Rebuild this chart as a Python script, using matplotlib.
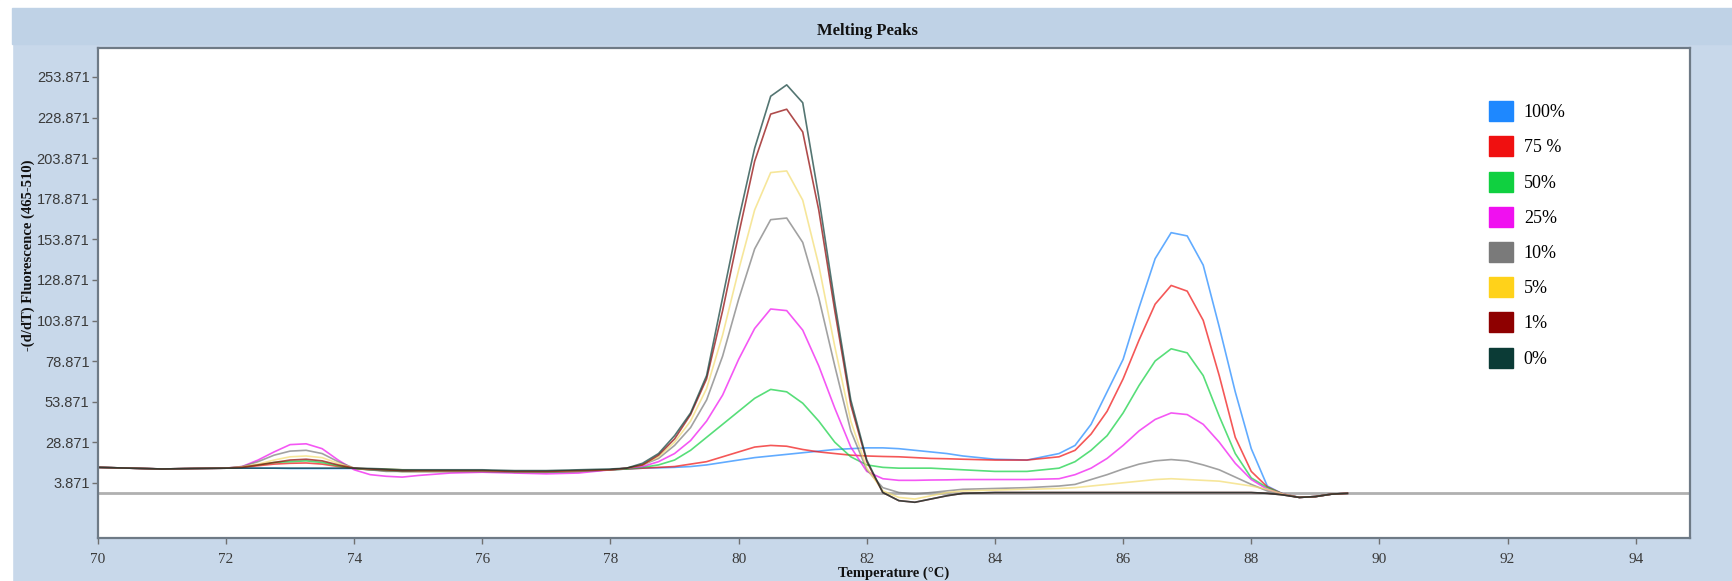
import matplotlib
matplotlib.use("Agg")
import matplotlib.pyplot as plt
from matplotlib.patches import Patch, Rectangle

# temperature grid (deg C)
temps = [70, 70.5, 71, 71.5, 72, 72.25, 72.5, 72.75, 73, 73.25, 73.5, 73.75,
         74, 74.25, 74.5, 74.75, 75, 75.5, 76, 76.5, 77, 77.5, 78, 78.25,
         78.5, 78.75, 79, 79.25, 79.5, 79.75, 80, 80.25, 80.5, 80.75, 81, 81.25,
         81.5, 81.75, 82, 82.25, 82.5, 82.75, 83, 83.25, 83.5, 84, 84.5, 85,
         85.25, 85.5, 85.75, 86, 86.25, 86.5, 86.75, 87, 87.25, 87.5, 87.75, 88,
         88.25, 88.5, 88.75, 89, 89.25, 89.5]

s100 = [13.5, 13, 12.5, 12.8, 13, 13, 13, 13, 12.8, 12.8, 12.8, 12.8,
        12.8, 12.5, 12, 11.5, 11.5, 11.5, 11.5, 11, 11, 11.5, 12, 12.5,
        13, 13.2, 13.5, 14, 15, 16.5, 18, 19.5, 20.5, 21.5, 22.5, 23.5,
        24.5, 25, 25.5, 25.5, 25, 24, 23, 22, 20.5, 18.5, 18, 22,
        27, 40, 60, 80, 112, 142, 158, 156, 138, 100, 60, 25,
        2, -3, -5, -4.5, -3, -2.5]
s75 = [13.5, 13, 12.5, 12.8, 13, 13.5, 14.5, 15.5, 16, 16.2, 15.5, 14,
       12.8, 12, 11.5, 11, 11, 11, 11, 10.5, 10.5, 11, 12, 12.5,
       13, 13.5, 14, 15.5, 17, 20, 23, 26, 27, 26.5, 24.5, 23,
       22, 21, 20.5, 20.2, 20, 19.5, 19, 18.8, 18.5, 18, 18, 20,
       24, 34, 48, 68, 92, 114, 125.5, 122, 104, 70, 32, 11,
       1.5, -3, -5, -4.5, -3, -2.5]
s50 = [13.5, 13, 12.5, 12.8, 13, 13.8, 15, 16.5, 17, 17.5, 16.5, 14.5,
       12.8, 12, 11.5, 11, 11, 11, 11, 10.5, 10.5, 11, 12, 12.5,
       13.5, 15, 18, 24, 32, 40, 48, 56, 61.5, 60, 53, 42,
       29, 20, 15, 13.5, 13, 13, 13, 12.5, 12, 11, 11, 13,
       17, 24, 33, 47, 64, 79, 86.5, 84, 70, 45, 22, 7,
       1, -3, -5, -4.5, -3, -2.5]
s25 = [13.5, 13, 12.5, 12.8, 13, 14, 18, 23, 27.5, 28, 25, 18,
       12, 9, 8, 7.5, 8.5, 10, 10.5, 10, 9.5, 10, 12, 13,
       14, 17, 22, 30, 42, 58, 80, 99, 111, 110, 98, 76,
       50, 26, 11, 6.5, 5.5, 5.5, 5.7, 5.8, 6, 6, 6, 6.5,
       9, 13, 19, 27, 36, 43, 47, 46, 40, 29, 16, 6,
       0, -3, -5, -4.5, -3, -2.5]
s10 = [13.5, 13, 12.5, 12.8, 13, 14, 17, 21, 23.5, 24, 22, 17,
       13, 12, 11, 11, 11, 11, 11, 10.5, 10.5, 11, 12, 13,
       15, 19, 27, 38, 55, 82, 117, 148, 166, 167, 152, 118,
       76, 36, 12, 1, -2, -3, -2, -1, 0, 0.5, 1, 2,
       3, 6, 9, 12.5, 15.5, 17.5, 18.3, 17.5, 15, 12, 7.5, 3,
       -1, -3.5, -5, -4.5, -3, -2.5]
s5 = [13.5, 13, 12.5, 12.8, 13, 13.8, 15.5, 18, 20, 20.5, 19.5, 16,
      13, 12.5, 12.5, 12, 11.5, 11.5, 11.5, 11, 11, 11.5, 12, 13,
      15, 20, 29, 42, 62, 95, 135, 172, 195, 196, 178, 138,
      88, 42, 13, -1, -5, -6, -4, -2, -1, -0.5, 0, 0.5,
      1, 2, 3, 4, 5, 6, 6.5, 6, 5.5, 5, 3.5, 2,
      0, -3, -5, -4.5, -3, -2.5]
s1 = [13.5, 13, 12.5, 12.8, 13, 13.5, 15, 16.5, 18, 18.5, 17.5, 15,
      13, 12.5, 12, 11.5, 11.5, 11.5, 11.5, 11, 11, 11.5, 12, 13,
      15, 21, 31, 46, 68, 110, 157, 202, 231, 234, 220, 172,
      110, 52, 17, -2, -7, -8, -6, -4, -2.5, -2, -2, -2,
      -2, -2, -2, -2, -2, -2, -2, -2, -2, -2, -2, -2,
      -2.5, -3.5, -5, -4.5, -3, -2.5]
s0 = [13.5, 13, 12.5, 12.8, 13, 13, 13, 13, 13, 13, 13, 13,
      13, 12.8, 12.5, 12, 12, 12, 12, 11.5, 11.5, 12, 12.5, 13,
      16, 22, 33, 47, 70, 118, 166, 210, 242, 249, 238, 180,
      115, 55, 18, -2, -7, -8, -6, -4, -2.5, -2, -2, -2,
      -2, -2, -2, -2, -2, -2, -2, -2, -2, -2, -2, -2,
      -2.5, -3.5, -5, -4.5, -3, -2.5]

labels = ["100%", "75 %", "50%", "25%", "10%", "5%", "1%", "0%"]
colors = ["#1e88ff", "#f01010", "#10d040", "#f010f0", "#7a7a7a", "#ffd21a", "#8e0000", "#0b3b36"]
series = [s100, s75, s50, s25, s10, s5, s1, s0]
baseline = -2.0
yticks = [3.871, 28.871, 53.871, 78.871, 103.871, 128.871, 153.871, 178.871, 203.871, 228.871, 253.871]
xticks = [70, 72, 74, 76, 78, 80, 82, 84, 86, 88, 90, 92, 94]

fig = plt.figure(figsize=(17.32, 5.81), dpi=100, facecolor="#c8d8ea")
# white edge of the screenshot, darker title band
fig.patches.append(Rectangle((0, 0.986), 1, 0.014, transform=fig.transFigure, color="white", zorder=0))
fig.patches.append(Rectangle((0, 0), 0.007, 1, transform=fig.transFigure, color="white", zorder=0))
fig.patches.append(Rectangle((0.007, 0.925), 0.993, 0.061, transform=fig.transFigure, color="#bfd2e6", zorder=0))

ax = fig.add_axes([0.0565, 0.074, 0.919, 0.8434])
ax.set_facecolor("white")

ax.axhline(baseline, color="#b0b0b0", linewidth=2, zorder=1)
for vals, c in zip(series, colors):
    if c == "#ffd21a":
        c = "#f3dc70"
    ax.plot(temps, vals, color=c, linewidth=1.2, alpha=0.7, zorder=2)

ax.set_xlim(70, 94.84)
ax.set_ylim(-30, 271.7)
ax.set_xticks(xticks)
ax.set_yticks(yticks)
ax.set_yticklabels([f"{v:.3f}" for v in yticks], fontsize=10.5, color="#3a3a3a", family="Liberation Sans")
ax.set_xticklabels([str(v) for v in xticks], fontsize=11, color="#3a3a3a", family="Liberation Serif")
ax.tick_params(axis="y", direction="out", length=4, color="#707070", width=1, pad=2)
ax.tick_params(axis="x", direction="out", length=4, color="#707070", width=1, pad=7)
for sp in ax.spines.values():
    sp.set_color("#6e7a86")
    sp.set_linewidth(1.6)

fig.text(0.501, 0.947, "Melting Peaks", ha="center", va="center", fontsize=12,
         fontweight="bold", family="Liberation Serif", color="#111111")
ax.set_xlabel("Temperature (°C)", fontsize=10.5, fontweight="bold", family="Liberation Serif",
              color="#111111", labelpad=0)
fig.text(0.0165, 0.56, "-(d/dT) Fluorescence (465-510)", rotation=90, ha="center", va="center",
         fontsize=10.5, fontweight="bold", family="Liberation Serif", color="#111111")

handles = [Patch(facecolor=c, edgecolor=c) for c in colors]
fig.legend(handles=handles, labels=labels, loc="upper left", bbox_to_anchor=(0.8597, 0.826),
           frameon=False, handlelength=1.33, handleheight=1.33,
           labelspacing=0.84, handletextpad=0.6, borderpad=0, borderaxespad=0,
           prop={"family": "Liberation Serif", "size": 13})

fig.savefig("out.png", dpi=100, facecolor=fig.get_facecolor())
